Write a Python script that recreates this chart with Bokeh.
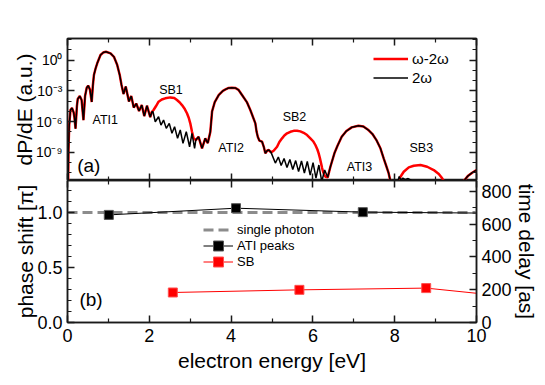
from bokeh.plotting import figure
from bokeh.layouts import column
from bokeh.models import (Range1d, FixedTicker, LinearAxis, LogAxis, Legend, LegendItem,
                          Label, CustomJSTickFormatter, PrintfTickFormatter)
from bokeh.embed import file_html
from bokeh.resources import INLINE

FONT = "Liberation Sans"

# ---------------- panel (a): photoelectron spectra, log10(dP/dE) ----------------
# shared part (both fields identical) around ATI1
e_ati1 = [0.017, 0.024, 0.042, 0.073, 0.11, 0.15, 0.17, 0.196, 0.23, 0.25, 0.30, 0.345, 0.39, 0.43,
          0.47, 0.506, 0.55, 0.592, 0.62, 0.646, 0.69, 0.727, 0.807, 0.873, 0.94, 1.052, 1.135, 1.216,
          1.277, 1.321, 1.370, 1.424, 1.502, 1.559, 1.620, 1.681, 1.749, 1.816, 1.877, 1.943, 2.023, 2.065]
lg_ati1 = [-11.8, -8.77, -6.34, -4.87, -4.68, -5.1, -5.6, -6.68, -4.5, -3.8, -3.51, -3.9, -5.85, -3.5,
           -2.7, -2.49, -2.9, -4.09, -2.5, -1.46, -0.78, -0.32, 0.49, 0.73, 0.81, 0.65, 0.32, -0.49,
           -1.46, -2.44, -3.31, -2.58, -4.04, -3.51, -4.63, -4.24, -4.97, -4.39, -5.46, -4.45, -5.56, -5.04]
# SB1 region
e_sb1_w2w = [2.104, 2.158, 2.227, 2.305, 2.390, 2.513, 2.611, 2.677, 2.745, 2.799, 2.868, 2.921,
             2.966, 3.002, 3.044, 3.083, 3.137]
lg_sb1_w2w = [-4.87, -4.53, -4.06, -3.85, -3.73, -3.64, -3.70, -3.90, -4.14, -4.39, -4.78, -5.19,
              -5.65, -6.17, -6.99, -7.63, -7.80]
e_sb1_2w = [2.09, 2.146, 2.227, 2.285, 2.349, 2.415, 2.488, 2.554, 2.618, 2.691, 2.757, 2.824,
            2.904, 2.985, 3.044, 3.107, 3.137]
lg_sb1_2w = [-5.04, -6.01, -5.53, -6.34, -5.85, -6.66, -6.17, -7.14, -6.50, -7.63, -6.82, -8.12,
             -6.99, -8.45, -7.14, -8.61, -7.80]
# shared part around ATI2
e_ati2 = [3.205, 3.289, 3.369, 3.430, 3.492, 3.535, 3.60, 3.70, 3.80, 3.863, 3.94, 4.018, 4.10,
          4.18, 4.267, 4.385, 4.470, 4.544, 4.593, 4.625, 4.654, 4.690, 4.757, 4.801, 4.837, 4.886,
          4.923, 4.977]
lg_ati2 = [-7.48, -8.61, -7.63, -8.09, -7.0, -5.0, -4.1, -3.4, -3.0, -2.86, -2.72, -2.69, -2.72,
           -2.9, -3.41, -4.1, -4.87, -5.65, -6.17, -7.02, -7.50, -7.85, -7.96, -8.48, -9.09, -8.82,
           -8.77, -9.00]
# SB2 region
e_sb2_w2w = [5.040, 5.124, 5.180, 5.246, 5.302, 5.368, 5.449, 5.530, 5.613, 5.694, 5.774, 5.858,
             5.938, 6.012, 6.061, 6.110, 6.141, 6.171, 6.200, 6.225, 6.249, 6.281, 6.306, 6.362]
lg_sb2_w2w = [-8.84, -8.45, -7.99, -7.63, -7.36, -7.14, -6.99, -6.90, -6.89, -6.95, -7.09, -7.31,
              -7.63, -7.94, -8.28, -8.72, -9.09, -9.55, -10.07, -10.53, -10.89, -11.21, -11.37, -11.43]
e_sb2_2w = [5.082, 5.155, 5.224, 5.295, 5.366, 5.437, 5.508, 5.579, 5.650, 5.721, 5.792, 5.863,
            5.933, 6.004, 6.075, 6.146, 6.217, 6.288, 6.362]
lg_sb2_2w = [-10.04, -9.45, -10.28, -9.60, -10.48, -9.70, -10.67, -9.80, -10.87, -9.84, -11.01,
             -9.89, -11.21, -9.99, -11.50, -10.23, -11.84, -10.72, -11.43]
# shared part around ATI3
e_ati3 = [6.428, 6.526, 6.599, 6.704, 6.819, 6.949, 7.113, 7.236, 7.358, 7.456, 7.553, 7.651,
          7.732, 7.80, 7.85, 7.89, 7.93]
lg_ati3 = [-10.40, -9.09, -8.38, -7.48, -6.92, -6.56, -6.40, -6.48, -6.82, -7.21, -7.80, -8.6,
           -9.6, -10.4, -11.0, -11.7, -12.1]
# SB3 region
e_sb3_w2w = [8.0, 8.07, 8.099, 8.141, 8.221, 8.344, 8.466, 8.630, 8.794, 8.955, 9.078, 9.161,
             9.200, 9.241, 9.35, 9.55, 9.62]
lg_sb3_w2w = [-12.3, -12.0, -11.84, -11.37, -10.89, -10.46, -10.30, -10.23, -10.40, -10.72, -11.11,
              -11.53, -11.79, -12.09, -12.5, -12.6, -12.3]
e_sb3_2w = [8.0, 8.07, 8.11, 8.15, 8.20, 8.26, 8.33, 8.40, 8.46, 8.6, 9.0, 9.4, 9.62]
lg_sb3_2w = [-12.2, -11.9, -11.35, -11.7, -11.5, -11.65, -11.55, -11.7, -12.1, -12.5, -12.8, -12.7, -12.3]
# shared part, rise of ATI4
e_ati4 = [9.689, 9.787, 9.895, 10.0, 10.1]
lg_ati4 = [-11.79, -11.31, -10.98, -10.72, -10.45]

peak_names = ["ATI1", "SB1", "ATI2", "SB2", "ATI3", "SB3"]
peak_label_e = [0.922, 2.53, 4.0, 5.55, 7.14, 8.65]
peak_label_lg = [-5.85, -2.88, -8.53, -5.57, -10.4, -8.58]

# ---------------- panel (b): phase shift [pi] ----------------
photon_energy = [0.0, 10.0]
photon_phase = [1.0, 1.0]
ati_energy = [1.01, 4.12, 7.22, 10.3]
ati_phase = [0.979, 1.04, 1.004, 0.995]
sb_energy = [2.575, 5.67, 8.77, 11.85]
sb_phase = [0.273, 0.297, 0.313, 0.195]

x_ticks = [0, 2, 4, 6, 8, 10]
x_minor = [1, 3, 5, 7, 9]
lg_major = [-9, -6, -3, 0]
lg_minor = list(range(-11, 3))
phase_ticks = [0.0, 0.5, 1.0]
phase_minor = [0.1, 0.2, 0.3, 0.4, 0.6, 0.7, 0.8, 0.9, 1.1, 1.2]
delay_ticks = [0, 200, 400, 600, 800]
delay_minor = [100, 300, 500, 700]

# build series
e_w2w = e_ati1 + e_sb1_w2w + e_ati2 + e_sb2_w2w + e_ati3 + e_sb3_w2w + e_ati4
lg_w2w = lg_ati1 + lg_sb1_w2w + lg_ati2 + lg_sb2_w2w + lg_ati3 + lg_sb3_w2w + lg_ati4
e_2w = e_ati1 + e_sb1_2w + e_ati2 + e_sb2_2w + e_ati3 + e_sb3_2w + e_ati4
lg_2w = lg_ati1 + lg_sb1_2w + lg_ati2 + lg_sb2_2w + lg_ati3 + lg_sb3_2w + lg_ati4
y_w2w = [10.0 ** v for v in lg_w2w]
y_2w = [10.0 ** v for v in lg_2w]

AX = "#1a1a1a"
blank_fmt = CustomJSTickFormatter(code="return '';")


def style_axis(ax, labels=True, size="18px"):
    ax.axis_line_color = AX
    ax.axis_line_width = 1.5
    ax.major_tick_in = 7
    ax.major_tick_out = 0
    ax.minor_tick_in = 4
    ax.minor_tick_out = 0
    ax.major_tick_line_color = AX
    ax.major_tick_line_width = 1.5
    ax.minor_tick_line_color = AX
    ax.minor_tick_line_width = 1.2
    ax.major_label_text_font = FONT
    ax.major_label_text_color = "black"
    ax.axis_label_text_font = FONT
    ax.axis_label_text_font_style = "normal"
    ax.axis_label_text_color = "black"
    ax.axis_label_text_font_size = "21px"
    if labels:
        ax.major_label_text_font_size = size
    else:
        ax.formatter = blank_fmt
        ax.major_label_text_font_size = "1px"
        ax.major_label_standoff = 0


def style_fig(p):
    p.xgrid.visible = False
    p.ygrid.visible = False
    p.outline_line_color = AX
    p.outline_line_width = 1.5
    p.background_fill_color = "white"
    p.border_fill_color = "white"


def key_legend(label, renderers, loc, glyph_w, glyph_h, size):
    return Legend(items=[LegendItem(label=label, renderers=renderers)], location=loc,
                  background_fill_alpha=0, border_line_alpha=0, padding=0, margin=0, spacing=0,
                  glyph_width=glyph_w, glyph_height=glyph_h, label_height=glyph_h, label_standoff=4,
                  label_text_font=FONT, label_text_font_size=size, label_text_color="black")


sup_fmt = CustomJSTickFormatter(code="""
const e = Math.round(Math.log10(tick));
const s = {'-':'\u207b','0':'\u2070','1':'\u00b9','2':'\u00b2','3':'\u00b3','4':'\u2074',
           '5':'\u2075','6':'\u2076','7':'\u2077','8':'\u2078','9':'\u2079'};
return '10' + String(e).split('').map(c => s[c]).join('');
""")

xt = FixedTicker(ticks=x_ticks, minor_ticks=x_minor)
yt_log = FixedTicker(ticks=[10.0 ** k for k in lg_major], minor_ticks=[10.0 ** k for k in lg_minor])

p1 = figure(frame_width=409, frame_height=142, x_range=Range1d(0, 10),
            y_range=Range1d(10 ** -11.74, 10 ** 2.10), y_axis_type="log",
            output_backend="svg", toolbar_location=None,
            min_border_left=67, min_border_right=69, min_border_top=38, min_border_bottom=0)
style_fig(p1)
p1.xaxis[0].ticker = xt
style_axis(p1.xaxis[0], labels=False)
p1.yaxis[0].ticker = yt_log
p1.yaxis[0].formatter = sup_fmt
p1.yaxis[0].axis_label = "dP/dE (a.u.)"
style_axis(p1.yaxis[0], size="14px")
p1.yaxis[0].major_label_standoff = 5
p1.yaxis[0].axis_label_standoff = -3
ax_r1 = LogAxis(ticker=yt_log)
style_axis(ax_r1, labels=False)
p1.add_layout(ax_r1, "right")
ax_t1 = LinearAxis(ticker=xt)
style_axis(ax_t1, labels=False)
p1.add_layout(ax_t1, "above")

red_r = p1.line(e_w2w, y_w2w, line_color="#ff0000", line_width=2.5)
blk_r = p1.line(e_2w, y_2w, line_color="black", line_width=1.5)

for name, ex, ly in zip(peak_names, peak_label_e, peak_label_lg):
    p1.add_layout(Label(x=ex, y=10.0 ** ly, text=name, text_align="center", text_baseline="middle",
                        text_font=FONT, text_font_size="12.5px", text_color="black"))
p1.add_layout(Label(x=0.52, y=10.0 ** -10.31, text="(a)", text_align="center", text_baseline="middle",
                    text_font=FONT, text_font_size="19px", text_color="black"))

p1.add_layout(key_legend("ω-2ω", [red_r], (306, 113), 35, 17, "15px"))
p1.add_layout(key_legend("2ω", [blk_r], (306, 94), 35, 17, "15px"))

# ---------------- bottom figure ----------------
p2 = figure(frame_width=409, frame_height=142, x_range=p1.x_range, y_range=Range1d(0, 1.292),
            output_backend="svg", toolbar_location=None,
            min_border_left=67, min_border_right=69, min_border_top=0, min_border_bottom=62)
style_fig(p2)
p2.extra_y_ranges = {"delay": Range1d(0, 866)}
p2.xaxis[0].ticker = xt
p2.xaxis[0].axis_label = "electron energy [eV]"
style_axis(p2.xaxis[0])
p2.xaxis[0].major_label_standoff = 6
p2.xaxis[0].axis_label_standoff = 4
p2.yaxis[0].ticker = FixedTicker(ticks=phase_ticks, minor_ticks=phase_minor)
p2.yaxis[0].formatter = PrintfTickFormatter(format="%.1f")
p2.yaxis[0].axis_label = "phase shift [π]"
style_axis(p2.yaxis[0])
p2.yaxis[0].major_label_standoff = 5
p2.yaxis[0].axis_label_standoff = -3
ax_r2 = LinearAxis(y_range_name="delay", ticker=FixedTicker(ticks=delay_ticks, minor_ticks=delay_minor),
                   axis_label="time delay [as]")
style_axis(ax_r2)
ax_r2.major_label_standoff = 5
ax_r2.axis_label_standoff = 0
p2.add_layout(ax_r2, "right")
ax_t2 = LinearAxis(ticker=xt)
style_axis(ax_t2, labels=False)
p2.add_layout(ax_t2, "above")

ph_r = p2.line(photon_energy, photon_phase, line_color="#8c8c8c", line_width=3, line_dash="10 5")
ati_l = p2.line(ati_energy, ati_phase, line_color="black", line_width=1)
ati_s = p2.scatter(ati_energy, ati_phase, marker="square", size=9, fill_color="black", line_color="#555555")
sb_l = p2.line(sb_energy, sb_phase, line_color="#ff0000", line_width=1)
sb_s = p2.scatter(sb_energy, sb_phase, marker="square", size=9, fill_color="#ff0000", line_color="#ff5050")

p2.add_layout(Label(x=0.575, y=0.205, text="(b)", text_align="center", text_baseline="middle",
                    text_font=FONT, text_font_size="19px", text_color="black"))

p2.add_layout(key_legend("single photon", [ph_r], (136, 80), 30, 25, "13px"))
p2.add_layout(key_legend("ATI peaks", [ati_l, ati_s], (136, 64), 30, 25, "13px"))
p2.add_layout(key_legend("SB", [sb_l, sb_s], (136, 48), 30, 25, "13px"))

layout = column(p1, p2, spacing=0)
open("out.html", "w").write(file_html(layout, INLINE))
